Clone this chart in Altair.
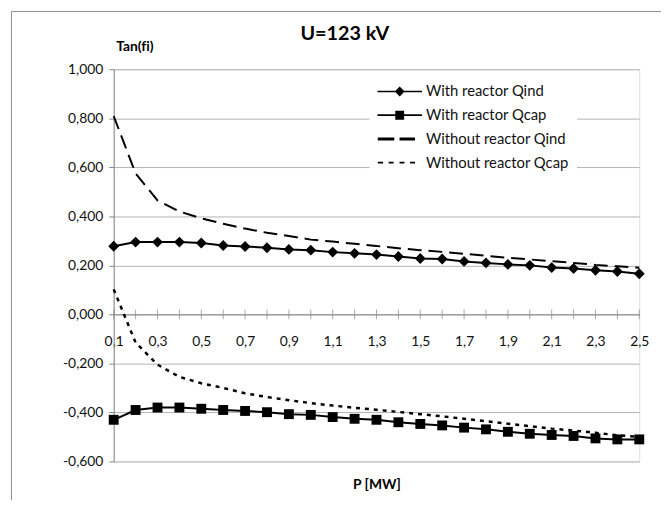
import altair as alt
import pandas as pd

# ---- data ----
P = [0.1, 0.2, 0.3, 0.4, 0.5, 0.6, 0.7, 0.8, 0.9, 1.0, 1.1, 1.2, 1.3,
     1.4, 1.5, 1.6, 1.7, 1.8, 1.9, 2.0, 2.1, 2.2, 2.3, 2.4, 2.5]
with_qind = [0.278, 0.295, 0.295, 0.295, 0.291, 0.281, 0.277, 0.272, 0.265, 0.262,
             0.254, 0.249, 0.244, 0.236, 0.228, 0.226, 0.216, 0.210, 0.204, 0.200,
             0.191, 0.187, 0.180, 0.175, 0.166]
with_qcap = [-0.430, -0.390, -0.380, -0.380, -0.385, -0.390, -0.394, -0.399, -0.407, -0.410,
             -0.419, -0.426, -0.430, -0.440, -0.447, -0.453, -0.462, -0.469, -0.479, -0.487,
             -0.492, -0.496, -0.506, -0.510, -0.510]
without_qind = [0.809, 0.575, 0.465, 0.420, 0.392, 0.370, 0.350, 0.333, 0.320, 0.305,
                0.297, 0.288, 0.279, 0.270, 0.262, 0.255, 0.247, 0.239, 0.231, 0.224,
                0.217, 0.210, 0.202, 0.196, 0.190]
without_qcap = [0.102, -0.115, -0.205, -0.255, -0.281, -0.300, -0.322, -0.337, -0.350, -0.362,
                -0.372, -0.381, -0.389, -0.398, -0.407, -0.416, -0.426, -0.436, -0.446, -0.456,
                -0.466, -0.474, -0.483, -0.493, -0.500]
series_names = ["With reactor Qind", "With reactor Qcap",
                "Without reactor Qind", "Without reactor Qcap"]
y_ticks = [-0.6, -0.4, -0.2, 0.0, 0.2, 0.4, 0.6, 0.8, 1.0]
x_labels = [0.1, 0.3, 0.5, 0.7, 0.9, 1.1, 1.3, 1.5, 1.7, 1.9, 2.1, 2.3, 2.5]

rows = []
for name, vals in zip(series_names, [with_qind, with_qcap, without_qind, without_qcap]):
    for p, v in zip(P, vals):
        rows.append({"P": p, "value": v, "series": name})
df = pd.DataFrame(rows)
df_p = pd.DataFrame({"P": P, "zero": [0.0] * len(P)})

# ---- layout ----
FONT = "Lato"
W, H = 532, 397
YMIN, YMAX = -0.6, 1.0
zero_offset = -H * (0 - YMIN) / (YMAX - YMIN)

xscale = alt.Scale(domain=[0.1, 2.5], nice=False, zero=False)
yscale = alt.Scale(domain=[YMIN, YMAX], nice=False)

y_label_expr = ("(datum.value < 0 ? '-' : '') + "
                "replace(format(abs(datum.value), '.3f'), '.', ',')")

x_enc = alt.X("P:Q", scale=xscale,
              axis=alt.Axis(title="P [MW]", values=x_labels, offset=zero_offset,
                            ticks=False, tickSize=0, grid=False,
                            labelExpr="replace(format(datum.value, '.1f'), '.', ',')",
                            labelFont=FONT, labelFontSize=14, labelColor="#111111",
                            labelBaseline="middle", labelPadding=27, labelFlush=False,
                            domainColor="#868686", domainWidth=1,
                            titleFont=FONT, titleFontSize=14, titleFontWeight="bold",
                            titleColor="black", titleY=172, titleBaseline="middle"))
y_enc = alt.Y("value:Q", scale=yscale,
              axis=alt.Axis(title="Tan(f\u200ci)", values=y_ticks,
                            labelExpr=y_label_expr,
                            labelFont=FONT, labelFontSize=14, labelColor="#111111",
                            labelPadding=6, tickSize=5, tickColor="#868686",
                            domainColor="#868686", grid=True, gridColor="#b3b3b3",
                            gridWidth=1,
                            titleAngle=0, titleX=2, titleY=-23, titleAlign="left",
                            titleBaseline="middle", titleFont=FONT, titleFontSize=14,
                            titleFontWeight="bold", titleColor="black"))

border = alt.Chart(pd.DataFrame({"a": [0]})).mark_rect(
    fillOpacity=0, stroke="#8c8c8c", strokeWidth=1
).encode(x=alt.value(-103.5), x2=alt.value(700), y=alt.value(-58.5), y2=alt.value(600))

ticks = alt.Chart(df_p).mark_tick(orient="vertical", size=10, thickness=1,
                                  color="#868686").encode(
    x=alt.X("P:Q", scale=xscale), y=alt.Y("zero:Q", scale=yscale))

base = alt.Chart(df)

def line(name, **kw):
    return base.transform_filter(alt.datum.series == name).mark_line(
        color="black", **kw).encode(x=x_enc, y=y_enc)

l1 = line(series_names[0], strokeWidth=2)
l2 = line(series_names[1], strokeWidth=2)
l3 = line(series_names[2], strokeWidth=2, strokeDash=[14, 7])
l4 = line(series_names[3], strokeWidth=2.5, strokeDash=[4, 5])

p1 = base.transform_filter(alt.datum.series == series_names[0]).mark_point(
    shape="diamond", filled=True, size=121, color="black", opacity=1).encode(x=x_enc, y=y_enc)
p2 = base.transform_filter(alt.datum.series == series_names[1]).mark_point(
    shape="square", filled=True, size=100, color="black", opacity=1).encode(x=x_enc, y=y_enc)

# legend symbols (unit = 9.5 px, symbol column 19 px wide, drawn 45 px long)
line_path = "M-1,-0.09L3.74,-0.09L3.74,0.09L-1,0.09Z"
sym_qind = line_path + "M1.368,-0.526L1.894,0L1.368,0.526L0.842,0Z"
sym_qcap = line_path + "M0.894,-0.474L1.842,-0.474L1.842,0.474L0.894,0.474Z"
sym_dash = ("M-0.97,-0.16L0.79,-0.16L0.79,0.16L-0.97,0.16Z"
            "M1.35,-0.16L3.0,-0.16L3.0,0.16L1.35,0.16Z")
sym_dot = ("M-0.97,-0.105L-0.4,-0.105L-0.4,0.105L-0.97,0.105Z"
           "M0.19,-0.105L0.72,-0.105L0.72,0.105L0.19,0.105Z"
           "M1.35,-0.105L1.87,-0.105L1.87,0.105L1.35,0.105Z"
           "M2.47,-0.105L3.0,-0.105L3.0,0.105L2.47,0.105Z")

legend_layer = base.transform_filter("false").mark_point(
    filled=True, color="black", opacity=1, strokeWidth=0).encode(
    x=x_enc, y=y_enc,
    shape=alt.Shape("series:N",
                    scale=alt.Scale(domain=series_names,
                                    range=[sym_qind, sym_qcap, sym_dash, sym_dot]),
                    legend=alt.Legend(title=None, orient="none", legendX=259, legendY=5,
                                      fillColor="white", padding=8, symbolSize=361,
                                      symbolFillColor="black", symbolStrokeWidth=0,
                                      symbolOpacity=1, rowPadding=6, labelOffset=30,
                                      labelFont=FONT, labelFontSize=15,
                                      labelColor="#111111", labelLimit=300)))

chart = alt.layer(border, l1, l2, l3, l4, p1, p2, ticks, legend_layer).properties(
    width=W, height=H,
    title=alt.TitleParams("U=123 kV", font=FONT, fontSize=20, fontWeight="bold",
                          color="black", anchor="middle", baseline="middle",
                          offset=0, dx=-32, dy=43.5),
    autosize=alt.AutoSizeParams(type="none"),
    padding={"left": 107, "top": 59, "right": 22, "bottom": 36},
).configure_view(stroke=None).configure(background="white")

chart.save("out.html", embed_options={"renderer": "svg", "actions": False})
